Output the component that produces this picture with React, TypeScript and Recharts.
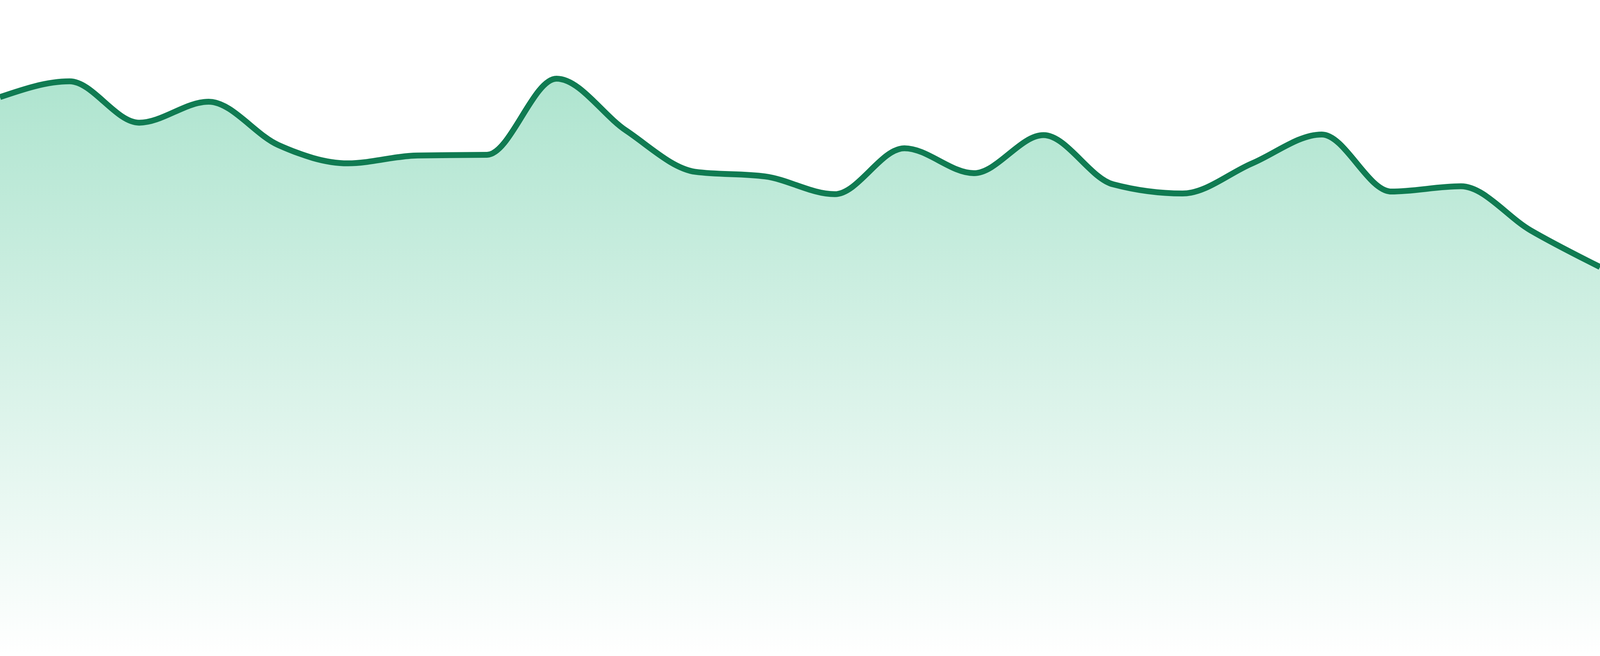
import { AreaChart, Area, XAxis, YAxis } from 'recharts'

// hourly readings, 0–100 scale
const hours = [
  '00:00', '01:00', '02:00', '03:00', '04:00', '05:00', '06:00', '07:00',
  '08:00', '09:00', '10:00', '11:00', '12:00', '13:00', '14:00', '15:00',
  '16:00', '17:00', '18:00', '19:00', '20:00', '21:00', '22:00', '23:00',
]
const values = [
  85.2, 87.6, 81.3, 84.5, 77.9, 75.1, 76.3, 76.4,
  88.0, 80.1, 73.8, 73.1, 70.4, 77.4, 73.6, 79.4,
  71.9, 70.5, 75.1, 79.5, 70.8, 71.6, 64.9, 59.3,
]

const data = hours.map((h, i) => ({ hour: h, value: values[i] }))

const LINE = '#107b52'

export default function App() {
  // fill the whole viewport (the window may come out narrower than asked)
  const w = window.innerWidth || 4800
  const h = window.innerHeight || 1680

  return (
    <div>
      <style>{`html, body { margin: 0; overflow: hidden; } svg { display: block; }`}</style>
      <AreaChart width={w} height={h} data={data} margin={{ top: 0, right: 0, bottom: 0, left: 0 }}>
        <defs>
          <linearGradient id="fillGreen" x1="0" y1="0" x2="0" y2="1">
            <stop offset="0%" stopColor="#1fb57a" stopOpacity={0.36} />
            <stop offset="100%" stopColor="#1fb57a" stopOpacity={0} />
          </linearGradient>
        </defs>
        <XAxis dataKey="hour" hide />
        <YAxis hide domain={[0, 100]} />
        <Area
          type="monotone"
          dataKey="value"
          stroke={LINE}
          strokeWidth={15 * h / 1680}
          fill="url(#fillGreen)"
          fillOpacity={1}
          isAnimationActive={false}
          dot={false}
          activeDot={false}
        />
      </AreaChart>
    </div>
  )
}
